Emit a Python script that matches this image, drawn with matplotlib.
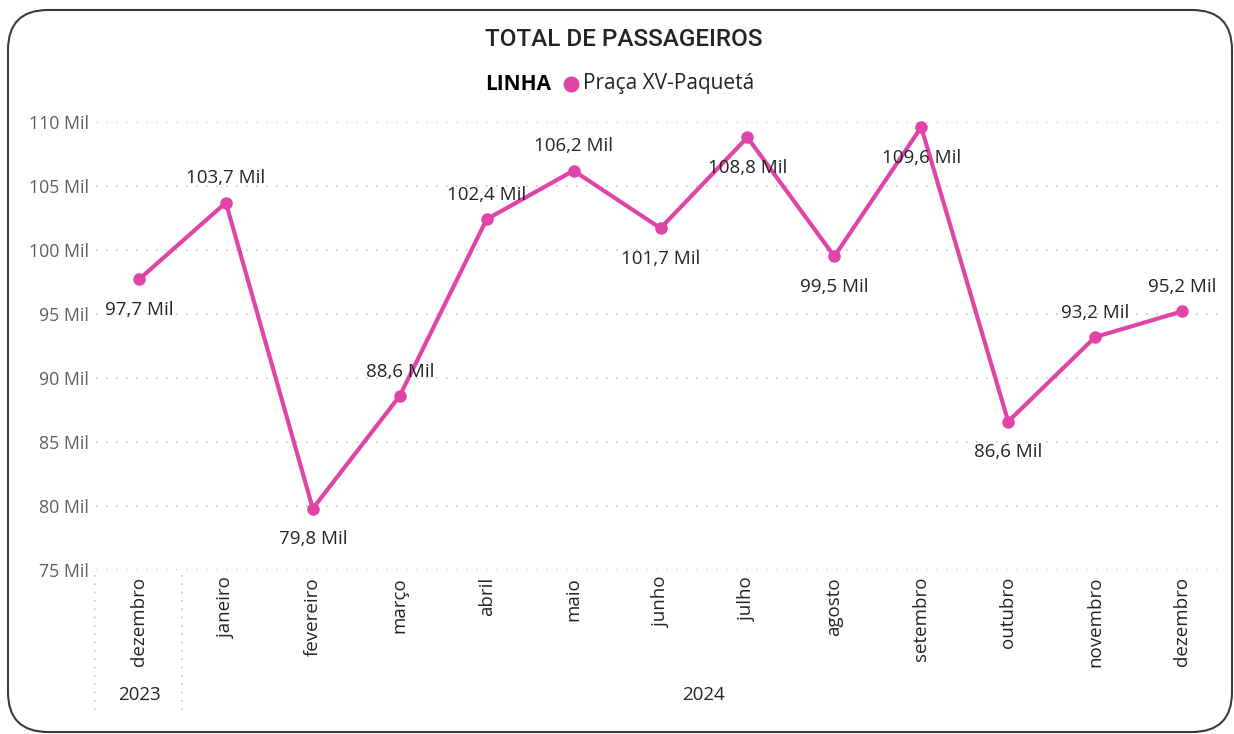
import matplotlib.pyplot as plt
from matplotlib.patches import FancyBboxPatch
from matplotlib.lines import Line2D
import matplotlib.transforms as mtransforms

plt.rcParams['font.family'] = ['Open Sans', 'DejaVu Sans']

# Data
meses = ['dezembro', 'janeiro', 'fevereiro', 'março', 'abril', 'maio', 'junho',
         'julho', 'agosto', 'setembro', 'outubro', 'novembro', 'dezembro']
anos = ['2023', '2024']
passageiros = [97.7, 103.7, 79.8, 88.6, 102.4, 106.2, 101.7, 108.8, 99.5, 109.6, 86.6, 93.2, 95.2]
rotulos = ['97,7 Mil', '103,7 Mil', '79,8 Mil', '88,6 Mil', '102,4 Mil', '106,2 Mil', '101,7 Mil',
           '108,8 Mil', '99,5 Mil', '109,6 Mil', '86,6 Mil', '93,2 Mil', '95,2 Mil']
acima = [False, True, False, True, True, True, False, False, False, False, False, True, True]
yticks = [75, 80, 85, 90, 95, 100, 105, 110]

cor = '#E044A7'
W, H = 1234, 734
fig = plt.figure(figsize=(W / 100, H / 100), dpi=100)
ax = fig.add_axes([95.5 / W, 1 - 570 / H, (1225.5 - 95.5) / W, (570 - 122) / H])

x = list(range(len(meses)))
ax.plot(x, passageiros, color=cor, lw=3, marker='o', ms=8, zorder=3, clip_on=False)
for xi, v, lab, up in zip(x, passageiros, rotulos, acima):
    ax.annotate(lab, (xi, v), xytext=(0, 11 if up else -15.5), textcoords='offset points',
                ha='center', va='bottom' if up else 'top', fontsize=13.5, color='#252423')

ax.set_xlim(-0.5, len(meses) - 0.5)
ax.set_ylim(75, 110)
ax.set_yticks(yticks)
ax.set_yticklabels([f'{t} Mil' for t in yticks], color='#605E5C', fontsize=12.8)
ax.tick_params(axis='y', length=0, pad=5)
ax.set_xticks(x)
ax.set_xticklabels(meses, rotation=90, fontsize=13.5, color='#252423', va='top')
ax.tick_params(axis='x', length=0, pad=5)
for s in ax.spines.values():
    s.set_visible(False)
ax.grid(axis='y', color='#C8C6C4', linestyle=(0, (1, 5)), lw=1.2)

# hierarchy separators and years
trans = mtransforms.blended_transform_factory(ax.transData, ax.transAxes)
for xs in [-0.5, 0.5]:
    ax.add_line(Line2D([xs, xs], [-0.012, -0.318], transform=trans, color='#C8C6C4',
                       linestyle=(0, (1, 4)), lw=1.2, clip_on=False))
ax.text(0, -0.279, anos[0], transform=trans, ha='center', va='center', fontsize=13.5, color='#252423')
ax.text(6.5, -0.279, anos[1], transform=trans, ha='center', va='center', fontsize=13.5, color='#252423')

# title and legend
fig.text(624 / W, 1 - 40 / H, 'TOTAL DE PASSAGEIROS', ha='center', va='center',
         fontsize=17.5, fontweight='medium', color='#252423', family=['Roboto', 'DejaVu Sans'])
fig.text(485 / W, 1 - 84 / H, 'LINHA', ha='left', va='center', fontsize=15,
         fontweight='bold', color='#000000')
fig.add_artist(Line2D([571 / W], [1 - 84 / H], marker='o', ms=10.5, color=cor,
                      transform=fig.transFigure))
fig.text(583 / W, 1 - 84 / H, 'Praça XV-Paquetá', ha='left', va='center', fontsize=15,
         color='#252423')

# rounded border
border = FancyBboxPatch((8 / 100, 2 / 100), (1232 - 8) / 100, (724 - 2) / 100,
                        boxstyle='round,pad=0,rounding_size=0.4',
                        transform=fig.dpi_scale_trans, fill=False,
                        edgecolor='#3b3b3b', lw=1.5)
fig.add_artist(border)

fig.savefig('out.png', dpi=100)
